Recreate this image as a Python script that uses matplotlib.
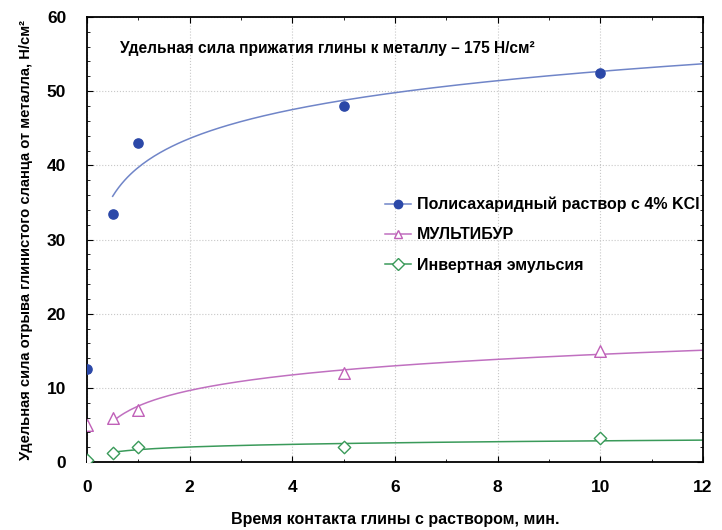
import numpy as np
import matplotlib.pyplot as plt
from matplotlib.ticker import MultipleLocator

plt.rcParams['font.family'] = ['Liberation Sans', 'DejaVu Sans']
plt.rcParams['font.weight'] = 'bold'

time_min = [0, 0.5, 1, 5, 10]
polysaccharide = [12.5, 33.5, 43, 48, 52.5]
multibur = [5, 6, 7, 12, 15]
invert_emulsion = [0.3, 1.2, 2, 2, 3.2]

series = [
    ('Полисахаридный раствор с 4% KCl', polysaccharide, 'o', '#2b48a8', '#7085c8', True, 44),
    ('МУЛЬТИБУР', multibur, '^', '#c060b8', '#c070c0', False, 70),
    ('Инвертная эмульсия', invert_emulsion, 'D', '#3a9a5a', '#3a9a5a', False, 40),
]

fig = plt.figure(figsize=(7.22, 5.3), dpi=100)
ax = fig.add_axes([0.1205, 0.128, 0.853, 0.84])

# логарифмические линии тренда по точкам 0.5-10 мин
xfit = np.linspace(0.5, 12, 200)
for label, vals, mk, mcol, lcol, filled, size in series:
    x = np.array(time_min[1:])
    y = np.array(vals[1:])
    b, a = np.polyfit(np.log(x), y, 1)
    ax.plot(xfit, a + b * np.log(xfit), color=lcol, lw=1.1, zorder=2)
    ax.scatter(time_min, vals, marker=mk, s=size,
               facecolors=mcol if filled else 'white',
               edgecolors=mcol, linewidths=1.0, zorder=3, clip_on=True)
    ax.plot([], [], color=lcol, lw=1.1, marker=mk,
            markerfacecolor=mcol if filled else 'white',
            markeredgecolor=mcol, markersize=6, label=label)

ax.set_xlim(0, 12)
ax.set_ylim(0, 60)
ax.xaxis.set_major_locator(MultipleLocator(2))
ax.yaxis.set_major_locator(MultipleLocator(10))
ax.xaxis.set_minor_locator(MultipleLocator(1))
ax.yaxis.set_minor_locator(MultipleLocator(2))
ax.tick_params(which='both', direction='in', top=True, right=True)
ax.tick_params(which='major', length=4, labelsize=12.5)
ax.tick_params(axis='x', which='major', pad=13)
ax.tick_params(axis='y', which='major', pad=15)
ax.tick_params(which='minor', length=2)
for lbl in ax.get_xticklabels() + ax.get_yticklabels():
    lbl.set_fontweight('bold')
ax.grid(True, which='major', color='#c8c8c8', linestyle=':', lw=0.8)
for s in ax.spines.values():
    s.set_linewidth(1.3)

ax.set_xlabel('Время контакта глины с раствором, мин.', fontsize=11.5,
              fontweight='bold', labelpad=12)
ax.set_ylabel('Удельная сила отрыва глинистого сланца от металла, Н/см²',
              fontsize=10.6, fontweight='bold', labelpad=10)

ax.text(0.054, 0.93, 'Удельная сила прижатия глины к металлу – 175 Н/см²',
        transform=ax.transAxes, fontsize=11.2, fontweight='bold',
        ha='left', va='center')

leg = ax.legend(loc='upper left', bbox_to_anchor=(0.484, 0.596), frameon=False,
                fontsize=11.5, handlelength=1.6, handletextpad=0.4,
                labelspacing=0.95, borderaxespad=0, borderpad=0)
for t in leg.get_texts():
    t.set_fontweight('bold')

fig.savefig('out.png', dpi=100)
